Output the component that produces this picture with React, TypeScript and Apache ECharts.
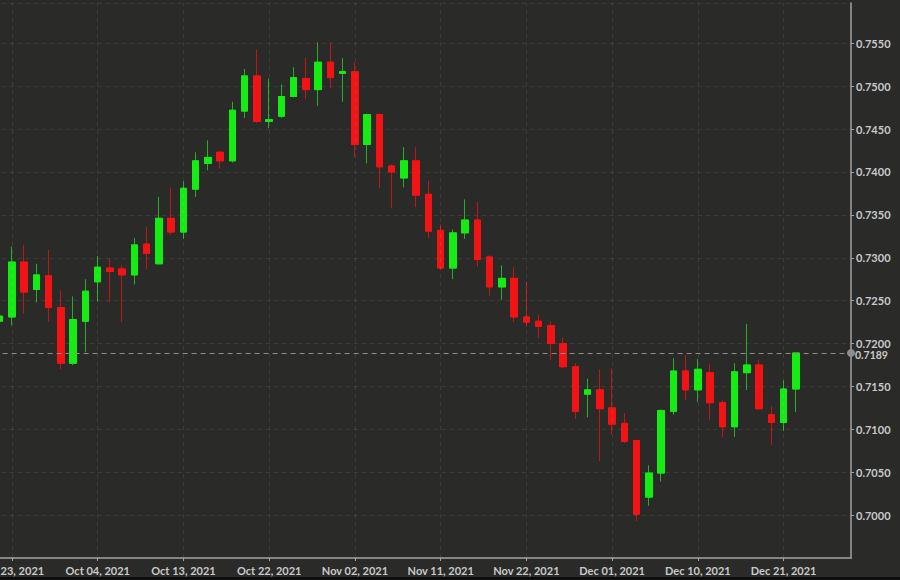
import React, { useEffect, useRef } from "react";
import * as echarts from "echarts";

const dates: string[] = [
  "Sep 22, 2021", "Sep 23, 2021", "Sep 24, 2021", "Sep 27, 2021", "Sep 28, 2021", "Sep 29, 2021", "Sep 30, 2021",
  "Oct 01, 2021", "Oct 04, 2021", "Oct 05, 2021", "Oct 06, 2021", "Oct 07, 2021", "Oct 08, 2021", "Oct 11, 2021",
  "Oct 12, 2021", "Oct 13, 2021", "Oct 14, 2021", "Oct 15, 2021", "Oct 18, 2021", "Oct 19, 2021", "Oct 20, 2021",
  "Oct 21, 2021", "Oct 22, 2021", "Oct 25, 2021", "Oct 26, 2021", "Oct 27, 2021", "Oct 28, 2021", "Oct 29, 2021",
  "Nov 01, 2021", "Nov 02, 2021", "Nov 03, 2021", "Nov 04, 2021", "Nov 05, 2021", "Nov 08, 2021", "Nov 09, 2021",
  "Nov 10, 2021", "Nov 11, 2021", "Nov 12, 2021", "Nov 15, 2021", "Nov 16, 2021", "Nov 17, 2021", "Nov 18, 2021",
  "Nov 19, 2021", "Nov 22, 2021", "Nov 23, 2021", "Nov 24, 2021", "Nov 25, 2021", "Nov 26, 2021", "Nov 29, 2021",
  "Nov 30, 2021", "Dec 01, 2021", "Dec 02, 2021", "Dec 03, 2021", "Dec 06, 2021", "Dec 07, 2021", "Dec 08, 2021",
  "Dec 09, 2021", "Dec 10, 2021", "Dec 13, 2021", "Dec 14, 2021", "Dec 15, 2021", "Dec 16, 2021", "Dec 17, 2021",
  "Dec 20, 2021", "Dec 21, 2021", "Dec 22, 2021",
];

// empty trailing slots on the right of the last candle
const futureDates: string[] = ["Dec 23, 2021", "Dec 24, 2021", "Dec 27, 2021", "Dec 28, 2021"];

const labelDates: string[] = [
  "Sep 23, 2021", "Oct 04, 2021", "Oct 13, 2021", "Oct 22, 2021", "Nov 02, 2021",
  "Nov 11, 2021", "Nov 22, 2021", "Dec 01, 2021", "Dec 10, 2021", "Dec 21, 2021",
];

// [open, close, low, high]
const ohlc: number[][] = [
  [0.7226, 0.7232, 0.7225, 0.7295],
  [0.7231, 0.7295, 0.7221, 0.7313],
  [0.7295, 0.7260, 0.7235, 0.7315],
  [0.7263, 0.7280, 0.7248, 0.7293],
  [0.7279, 0.7242, 0.7225, 0.7309],
  [0.7242, 0.7177, 0.7170, 0.7262],
  [0.7177, 0.7228, 0.7175, 0.7255],
  [0.7226, 0.7261, 0.7190, 0.7275],
  [0.7272, 0.7289, 0.7249, 0.7302],
  [0.7288, 0.7284, 0.7248, 0.7300],
  [0.7287, 0.7280, 0.7225, 0.7291],
  [0.7280, 0.7315, 0.7269, 0.7323],
  [0.7316, 0.7305, 0.7287, 0.7336],
  [0.7293, 0.7346, 0.7292, 0.7371],
  [0.7346, 0.7330, 0.7327, 0.7382],
  [0.7330, 0.7381, 0.7322, 0.7389],
  [0.7380, 0.7413, 0.7371, 0.7423],
  [0.7410, 0.7417, 0.7402, 0.7437],
  [0.7423, 0.7413, 0.7404, 0.7424],
  [0.7413, 0.7472, 0.7411, 0.7482],
  [0.7471, 0.7512, 0.7463, 0.7520],
  [0.7512, 0.7459, 0.7457, 0.7543],
  [0.7459, 0.7461, 0.7451, 0.7509],
  [0.7465, 0.7488, 0.7463, 0.7502],
  [0.7488, 0.7510, 0.7487, 0.7522],
  [0.7509, 0.7496, 0.7485, 0.7533],
  [0.7496, 0.7528, 0.7477, 0.7551],
  [0.7528, 0.7510, 0.7498, 0.7551],
  [0.7515, 0.7517, 0.7482, 0.7533],
  [0.7517, 0.7432, 0.7417, 0.7528],
  [0.7432, 0.7467, 0.7410, 0.7468],
  [0.7467, 0.7406, 0.7381, 0.7468],
  [0.7407, 0.7400, 0.7358, 0.7409],
  [0.7393, 0.7413, 0.7382, 0.7429],
  [0.7413, 0.7373, 0.7359, 0.7429],
  [0.7374, 0.7331, 0.7323, 0.7390],
  [0.7332, 0.7288, 0.7286, 0.7339],
  [0.7288, 0.7329, 0.7275, 0.7333],
  [0.7329, 0.7344, 0.7322, 0.7368],
  [0.7344, 0.7298, 0.7290, 0.7365],
  [0.7301, 0.7266, 0.7256, 0.7303],
  [0.7266, 0.7276, 0.7251, 0.7291],
  [0.7276, 0.7231, 0.7225, 0.7289],
  [0.7231, 0.7225, 0.7220, 0.7272],
  [0.7226, 0.7220, 0.7206, 0.7234],
  [0.7221, 0.7200, 0.7181, 0.7226],
  [0.7200, 0.7173, 0.7171, 0.7207],
  [0.7173, 0.7121, 0.7112, 0.7177],
  [0.7141, 0.7146, 0.7114, 0.7159],
  [0.7146, 0.7124, 0.7063, 0.7170],
  [0.7125, 0.7106, 0.7094, 0.7171],
  [0.7107, 0.7086, 0.7084, 0.7119],
  [0.7087, 0.7001, 0.6993, 0.7088],
  [0.7021, 0.7049, 0.7011, 0.7058],
  [0.7049, 0.7122, 0.7039, 0.7123],
  [0.7121, 0.7168, 0.7117, 0.7183],
  [0.7168, 0.7146, 0.7134, 0.7186],
  [0.7146, 0.7170, 0.7132, 0.7182],
  [0.7166, 0.7131, 0.7111, 0.7176],
  [0.7131, 0.7103, 0.7091, 0.7134],
  [0.7103, 0.7167, 0.7091, 0.7177],
  [0.7166, 0.7175, 0.7146, 0.7223],
  [0.7175, 0.7124, 0.7123, 0.7181],
  [0.7117, 0.7108, 0.7082, 0.7127],
  [0.7108, 0.7147, 0.7098, 0.7157],
  [0.7147, 0.7189, 0.7120, 0.7189],
];

const lastPrice = 0.7189;
const yMin = 0.695;
const yMax = 0.7597;
const yStep = 0.005;

const BG = "#2a2b29";
const UP = "#14ec14";
const DOWN = "#f21414";
const UP_WICK = "#24b024";
const DOWN_WICK = "#c21616";
const TEXT = "#c9c9c9";
const AXIS = "#a3a3a3";
const PRICE = "#8e8e8e";
const GRIDLINE = "rgba(255,255,255,0.085)";
const FONT = "Lato, 'Open Sans', sans-serif";

export default function App() {
  const ref = useRef<HTMLDivElement>(null);

  useEffect(() => {
    if (!ref.current) return;
    const chart = echarts.init(ref.current, undefined, { renderer: "svg" });
    const categories = dates.concat(futureDates);
    const labelSet = new Set(labelDates);
    // bodies only (wick collapsed onto the body), drawn over the wick series
    const bodies = ohlc.map(([o, c]) => [o, c, Math.min(o, c), Math.max(o, c)]);

    chart.setOption({
      animation: false,
      backgroundColor: BG,
      grid: {
        left: -6.4,
        right: 49,
        top: 3,
        bottom: 22,
        containLabel: false,
        outerBoundsMode: "none",
      },
      xAxis: {
        type: "category",
        data: categories,
        boundaryGap: true,
        axisLine: { show: true, lineStyle: { color: AXIS, width: 1.5 } },
        axisTick: {
          show: true,
          alignWithLabel: true,
          length: 3,
          interval: (i: number, v: string) => labelSet.has(v),
          lineStyle: { color: AXIS },
        },
        axisLabel: {
          show: true,
          interval: (i: number, v: string) => labelSet.has(v),
          color: TEXT,
          fontSize: 11,
          fontFamily: FONT,
          fontWeight: 700,
          margin: 7,
          hideOverlap: false,
        },
        splitLine: { show: false },
      },
      yAxis: {
        type: "value",
        position: "right",
        min: yMin,
        max: yMax,
        interval: yStep,
        axisLine: { show: true, lineStyle: { color: AXIS, width: 1.5 } },
        axisTick: { show: true, length: 3, lineStyle: { color: AXIS } },
        axisLabel: {
          show: true,
          showMinLabel: false,
          showMaxLabel: false,
          color: TEXT,
          fontSize: 11,
          lineHeight: 9,
          fontFamily: FONT,
          fontWeight: 700,
          margin: 5,
          formatter: (v: number) => v.toFixed(4),
        },
        splitLine: { show: true, lineStyle: { color: GRIDLINE, type: [4, 4] } },
      },
      series: [
        {
          name: "wicks",
          type: "candlestick",
          data: ohlc,
          barWidth: 7,
          z: 2,
          itemStyle: {
            color: UP,
            color0: DOWN,
            borderColor: UP_WICK,
            borderColor0: DOWN_WICK,
            borderWidth: 1,
          },
          markLine: {
            silent: true,
            symbol: "none",
            precision: 4,
            animation: false,
            data: labelDates.map((d) => ({
              xAxis: categories.indexOf(d),
              label: { show: false },
              lineStyle: { color: GRIDLINE, type: [4, 4], width: 1 },
            })),
          },
        },
        {
          name: "bodies",
          type: "candlestick",
          data: bodies,
          barWidth: 7,
          z: 3,
          itemStyle: {
            color: UP,
            color0: DOWN,
            borderColor: UP,
            borderColor0: DOWN,
            borderWidth: 1,
          },
          markLine: {
            silent: true,
            symbol: ["none", "circle"],
            symbolSize: 8,
            precision: 4,
            animation: false,
            lineStyle: { color: PRICE, type: [5, 4], width: 1 },
            itemStyle: { color: PRICE },
            label: {
              show: true,
              position: "end",
              distance: 4,
              offset: [0, 2],
              formatter: lastPrice.toFixed(4),
              color: TEXT,
              fontSize: 10.5,
              lineHeight: 9,
              fontFamily: FONT,
              fontWeight: 700,
            },
            data: [{ yAxis: lastPrice }],
          },
        },
      ],
      graphic: [
        {
          type: "rect",
          left: 0,
          top: 577,
          shape: { width: 900, height: 3 },
          style: { fill: "#0d0d0d" },
          silent: true,
        },
      ],
    });

    return () => chart.dispose();
  }, []);

  return (
    <div
      ref={ref}
      style={{ position: "absolute", left: 0, top: 0, width: 900, height: 580 }}
    />
  );
}
